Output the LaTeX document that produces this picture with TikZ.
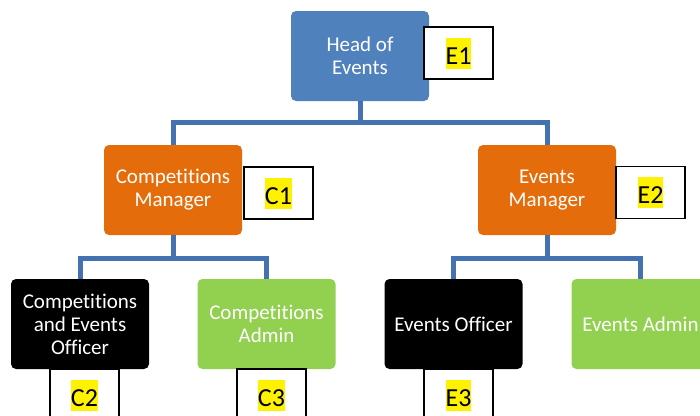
\documentclass[tikz,border=0pt]{standalone}
\usepackage{fontspec}
\setmainfont[Ligatures={NoCommon,NoRare}]{Carlito}
\usetikzlibrary{positioning}
\definecolor{headblue}{RGB}{79,129,189}
\definecolor{linkblue}{RGB}{68,114,176}
\definecolor{mgrorange}{RGB}{228,108,10}
\definecolor{admgreen}{RGB}{146,208,80}
\newcommand{\hilite}[1]{{\setlength{\fboxsep}{0pt}\colorbox{yellow}{\rule[-4.5pt]{0pt}{31pt}#1}}}
\tikzset{
    line/.style    = {draw=linkblue, line width=5pt},
    box/.style     = {rounded corners=5pt, minimum width=138pt, minimum height=90pt,
            inner sep=0pt, outer sep=0pt, align=center, text=white,
            font=\fontsize{21}{23}\selectfont},
    headbox/.style = {box, fill=headblue},
    mgrbox/.style  = {box, fill=mgrorange},
    offbox/.style  = {box, fill=black},
    admbox/.style  = {box, fill=admgreen},
    tag/.style     = {draw=black, line width=1.8pt, fill=white,
            minimum width=69pt, minimum height=52pt, inner sep=0pt, outer sep=0pt,
            font=\fontsize{26}{28}\selectfont},
}

\begin{document}
\begin{tikzpicture}
    \useasboundingbox (0,0) rectangle (700pt,-415pt);
    \clip (0,0) rectangle (700pt,-415pt);
    \begin{scope}
        % Nodes
        \node[headbox] (head) at (360pt,-56pt) {Head of\\Events};
        \node[mgrbox, below=44pt of head, xshift=-187pt] (cm) {Competitions\\Manager};
        \node[mgrbox, below=44pt of head, xshift=187pt] (em) {Events\\Manager};
        \node[offbox, below=44pt of cm, xshift=-93pt] (ceo) {Competitions\\and Events\\Officer};
        \node[admbox, below=44pt of cm, xshift=93.5pt] (cadm) {Competitions\\Admin};
        \node[offbox, below=44pt of em, xshift=-93.5pt] (eo) {Events Officer};
        \node[admbox, below=44pt of em, xshift=93.5pt] (eadm) {Events Admin};
        % Connectors
        \draw[line] (head.south) -- ++(0,-21.5pt) coordinate (hbar) -| (cm.north);
        \draw[line] (hbar) -| (em.north);
        \draw[line] (cm.south) -- ++(0,-23pt) coordinate (cbar) -| (ceo.north);
        \draw[line] (cbar) -| (cadm.north);
        \draw[line] (em.south) -- ++(0,-23pt) coordinate (ebar) -| (eo.north);
        \draw[line] (ebar) -| (eadm.north);
        % Tags
        \node[tag, right=-5pt of head, yshift=3pt] (e1) {\hilite{E1}};
        \node[tag, right=2pt of cm, yshift=-3pt] (c1) {\hilite{C1}};
        \node[tag, right=0pt of em, yshift=-2.5pt] (e2) {\hilite{E2}};
        \node[tag, below=0pt of ceo, xshift=4.5pt] (c2) {\hilite{C2}};
        \node[tag, below=0pt of cadm, xshift=5pt] (c3) {\hilite{C3}};
        \node[tag, below=0pt of eo, xshift=5pt] (e3) {\hilite{E3}};
    \end{scope}
\end{tikzpicture}
\end{document}
